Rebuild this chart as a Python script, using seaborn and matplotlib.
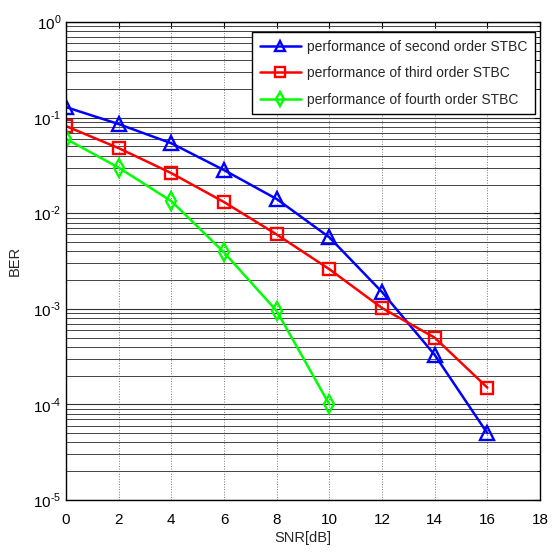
import matplotlib
matplotlib.use("Agg")
import matplotlib.pyplot as plt
import seaborn as sns
import numpy as np
from matplotlib.ticker import LogLocator, NullFormatter, FuncFormatter

snr = [0, 2, 4, 6, 8, 10, 12, 14, 16]
ber_second = [0.129, 0.0857, 0.054, 0.0283, 0.0141, 0.0056, 0.0015, 3.3e-4, 5e-5]
ber_third = [0.0817, 0.048, 0.0263, 0.0131, 0.006, 0.0026, 1.02e-3, 5e-4, 1.5e-4]
snr_fourth = [0, 2, 4, 6, 8, 10]
ber_fourth = [0.06, 0.030, 0.0134, 0.0039, 9.5e-4, 1e-4]

labels = [
    "performance of second order STBC",
    "performance of third order STBC",
    "performance of fourth order STBC",
]

sns.set_style("white")
plt.rcParams["font.family"] = ["Liberation Sans", "DejaVu Sans"]
plt.rcParams["mathtext.fontset"] = "custom"
plt.rcParams["mathtext.rm"] = "Liberation Sans"

fig = plt.figure(figsize=(5.55, 5.53), dpi=100)
ax = fig.add_axes([0.119, 0.0958, 0.854, 0.8642])

# ---------------- CURVES ----------------

sns.lineplot(x=snr, y=ber_second, ax=ax, color="#0000ff", marker="^",
             markersize=10, markerfacecolor="none", markeredgecolor="#0000ff",
             markeredgewidth=1.7, linewidth=1.8, label=labels[0])
sns.lineplot(x=snr, y=ber_third, ax=ax, color="#ff0000", marker="s",
             markersize=9, markerfacecolor="none", markeredgecolor="#ff0000",
             markeredgewidth=1.7, linewidth=1.8, label=labels[1])
sns.lineplot(x=snr_fourth, y=ber_fourth, ax=ax, color="#00ff00", marker="d",
             markersize=9, markerfacecolor="none", markeredgecolor="#00ff00",
             markeredgewidth=1.7, linewidth=1.8, label=labels[2])

# ---------------- AXES ----------------

ax.set_yscale("log")
ax.set_xlim(0, 18)
ax.set_ylim(1e-5, 1)
ax.set_xticks(range(0, 19, 2))
ax.yaxis.set_major_locator(LogLocator(base=10, numticks=10))
ax.yaxis.set_minor_locator(LogLocator(base=10, subs=np.arange(2, 10), numticks=10))
ax.yaxis.set_minor_formatter(NullFormatter())


def pow_label(v, pos):
    e = int(round(np.log10(v)))
    if e < 0:
        return r"$10^{\text{-}%d}$" % (-e)
    return r"$10^{%d}$" % e


ax.yaxis.set_major_formatter(FuncFormatter(pow_label))

ax.grid(True, which="major", axis="x", color="#777777", linewidth=0.7, linestyle=":")
ax.grid(True, which="major", axis="y", color="#333333", linewidth=0.8)
ax.grid(True, which="minor", axis="y", color="#444444", linewidth=0.7)
ax.set_axisbelow(True)

ax.tick_params(axis="both", which="both", direction="in", top=True, right=True,
               labelsize=11, colors="black")
ax.tick_params(axis="x", which="major", pad=9)
ax.tick_params(which="major", length=4)
ax.tick_params(which="minor", length=2.5)
for s in ax.spines.values():
    s.set_color("black")
    s.set_linewidth(1.0)

ax.set_xlabel("SNR[dB]", fontsize=10.5, labelpad=3)
ax.set_ylabel("BER", fontsize=10.5)
ax.yaxis.set_label_coords(-0.093, 0.5)

leg = ax.legend(loc="upper right", bbox_to_anchor=(0.989, 0.979), borderaxespad=0,
                fontsize=10, frameon=True, fancybox=False, edgecolor="black",
                handlelength=3.0, labelspacing=0.9, markerscale=0.75,
                handletextpad=0.4, borderpad=0.55)
leg.get_frame().set_linewidth(1.0)
leg.get_frame().set_alpha(1)

fig.savefig("out.png", dpi=100)
